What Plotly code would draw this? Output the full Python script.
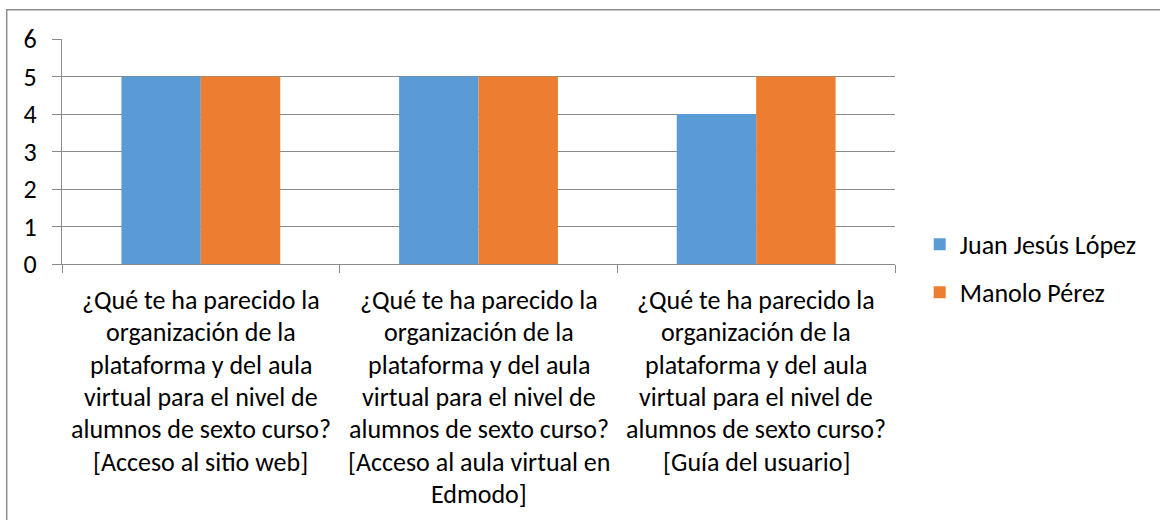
import plotly.graph_objects as go

categories = ["Q1", "Q2", "Q3"]
label_lines = [
    ["¿Qué te ha parecido la", "organización de la", "plataforma y del aula",
     "virtual para el nivel de", "alumnos de sexto curso?", "[Acceso al sitio web]"],
    ["¿Qué te ha parecido la", "organización de la", "plataforma y del aula",
     "virtual para el nivel de", "alumnos de sexto curso?", "[Acceso al aula virtual en", "Edmodo]"],
    ["¿Qué te ha parecido la", "organización de la", "plataforma y del aula",
     "virtual para el nivel de", "alumnos de sexto curso?", "[Guía del usuario]"],
]
series_names = ["Juan Jesús López", "Manolo Pérez"]
juan = [5, 5, 4]
manolo = [5, 5, 5]
colors = ["#5B9BD5", "#ED7D31"]

FONT = "Calibri, Carlito, 'Liberation Sans Narrow', 'Open Sans', sans-serif"
GRID = "#8a8a8a"
FS = 26

W, H = 1160, 520
L, R, T, B = 62.3, 895.3, 39.3, 264.0
pw, ph = R - L, B - T

fig = go.Figure()
for name, vals, col in zip(series_names, [juan, manolo], colors):
    fig.add_trace(go.Bar(x=categories, y=vals, name=name, marker_color=col,
                         marker_line_width=0, legendgroup=name))

# category labels, one annotation per line
line_h = 32.3
first_line = 300.0
for cat, lines in zip(categories, label_lines):
    for i, txt in enumerate(lines):
        ypx = first_line + i * line_h
        fig.add_annotation(x=cat, xref="x", y=-(ypx - B) / ph, yref="paper",
                           text=txt, showarrow=False, xanchor="center", yanchor="middle",
                           font=dict(family=FONT, size=FS, color="#000000"))

# outer chart frame
fig.add_shape(type="rect", xref="paper", yref="paper",
              x0=(7 - L) / pw, x1=(1175 - L) / pw,
              y0=-(535 - B) / ph, y1=(B - 10) / ph,
              line=dict(color="#8c8c8c", width=1.5), fillcolor="rgba(0,0,0,0)", layer="below")

fig.update_layout(
    width=W, height=H,
    margin=dict(l=L, r=W - R, t=T, b=H - B, autoexpand=False),
    paper_bgcolor="white", plot_bgcolor="white",
    barmode="group", bargap=0.428, bargroupgap=0,
    font=dict(family=FONT, size=FS, color="#000000"),
    showlegend=True,
    legend=dict(x=(920 - L) / pw, xanchor="left", y=(B - 221) / ph, yanchor="top",
                font=dict(family=FONT, size=FS, color="#000000"),
                tracegroupgap=11, itemwidth=30, bgcolor="rgba(0,0,0,0)"),
    xaxis=dict(type="category", showticklabels=False, showline=True, linecolor=GRID,
               linewidth=1, ticks="outside", tickson="boundaries", ticklen=8,
               tickcolor=GRID, showgrid=False, zeroline=False),
    yaxis=dict(range=[0, 6], dtick=1, tick0=0, showgrid=True, gridcolor=GRID, gridwidth=1,
               showline=True, linecolor=GRID, linewidth=1, ticks="outside", ticklen=9,
               tickcolor=GRID, zeroline=False, ticklabelstandoff=10,
               tickfont=dict(family=FONT, size=FS, color="#000000")),
)

fig.write_html("out.html", config={"displayModeBar": False},
               post_script="document.body.style.margin='0';document.body.style.overflow='hidden';")
